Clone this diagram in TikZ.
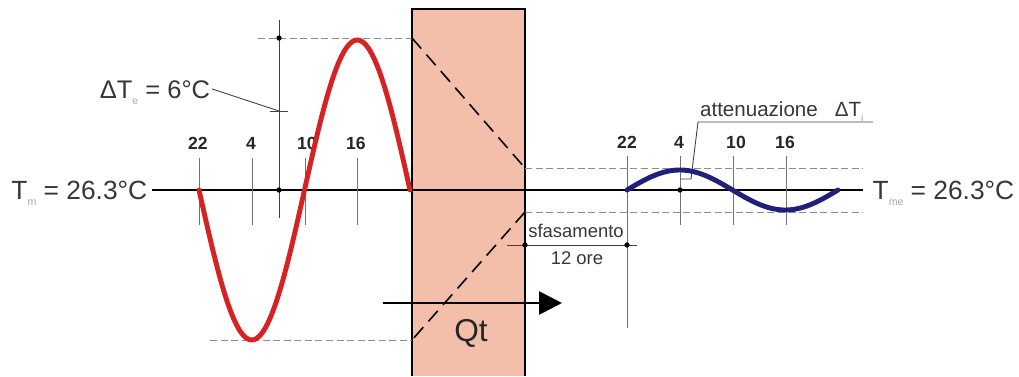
\documentclass[tikz,border=0pt]{standalone}
\usepackage{fontspec}
\setmainfont{Liberation Sans}
\usetikzlibrary{arrows.meta, calc}
\usepackage{xcolor}

\definecolor{wallfill}{RGB}{243,190,170}
\definecolor{wavered}{RGB}{214,34,34}
\definecolor{waveblue}{RGB}{34,30,122}
\definecolor{txtgray}{RGB}{55,55,55}

% pedice piccolo e chiaro
\newcommand{\lowsub}[1]{\raisebox{-0.45ex}{\fontsize{6}{7}\selectfont\color{black!35}#1}}

\begin{document}
\begin{tikzpicture}[
    x=0.02cm, y=-0.02cm,
    every node/.style={font=\fontsize{10.5}{12}\selectfont, text=txtgray, inner sep=1pt},
    axisline/.style={
        draw=black,
        line width=1.4pt
    },
    tickline/.style={draw=black!55, line width=0.4pt},
    guide/.style={draw=black!75, line width=0.5pt},
    level/.style={
        draw=black!45,
        line width=0.5pt,
        dash pattern=on 4pt off 2pt
    },
    slope/.style={
        draw=black,
        line width=0.9pt,
        dash pattern=on 8pt off 4.5pt
    },
    wave/.style={line width=2.8pt, line cap=round, line join=round},
    hour/.style={font=\fontsize{10}{12}\selectfont\bfseries, text=black!85},
    temp/.style={
        font=\fontsize{15}{18}\selectfont,
        text height=10.7pt,
        text depth=0pt,
        inner sep=2.5pt
    },
    dot/.style={circle, fill=black, inner sep=0pt, minimum size=3pt}
]

\useasboundingbox (0,0) rectangle (1019,376);

% ============================================================
% PARETE
% ============================================================

\fill[wallfill] (412,9) rectangle (525,376);
\draw[line width=0.8pt] (412,376) |- (525,9) -- (525,376);

% livelli di massimo e minimo
\draw[level] (258,38) -- (412,38);
\draw[level] (210,340) -- (412,340);
\draw[level] (525,168) -- (863,168);
\draw[level] (525,212) -- (863,212);

\draw[slope] (412,38) -- (525,168);
\draw[slope] (525,212) -- (412,340);

% ============================================================
% ASSE DELLE TEMPERATURE
% ============================================================

\node[temp, anchor=east] (tm) at (152,190)
{T\lowsub{m} = 26.3°C};

\node[temp, anchor=west, outer sep=3pt] (tme) at (863,190)
{T\lowsub{me} = 26.3°C};

\draw[axisline] (tm.east) -- (tme.west);

% ============================================================
% ORE - ESTERNO
% ============================================================

\foreach \hx/\hl in {198/22, 251/4, 307/10, 356/16}
{
    \node[hour] (in\hl) at (\hx,143) {\hl};
}
\foreach \hx in {199, 252, 305, 357}
{
    \draw[tickline] (\hx,158) -- (\hx,225);
}

% ampiezza esterna
\draw[guide] (279,20) -- (279,218);
\draw[guide] (270,111) -- (288,111);
\coordinate (dtemark) at (279,111);

\node[
    font=\fontsize{14.5}{17}\selectfont,
    text height=10.4pt,
    text depth=0pt
] (dte) at (155,89)
{ΔT\lowsub{e} = 6°C};

\draw[guide] (dte.east) -- (dtemark);

% ============================================================
% ORE - INTERNO
% ============================================================

\foreach \hx/\hl in {627/22, 679/4, 736/10, 785/16}
{
    \node[hour] (out\hl) at (\hx,142) {\hl};
}
\foreach \hx in {680, 733, 786}
{
    \draw[tickline] (\hx,156) -- (\hx,225);
}
\draw[tickline] (627,156) -- (627,328);

% sfasamento
\coordinate (sfleft) at (507,245);
\coordinate (sfright) at (637,245);
\draw[guide] (sfleft) -- (sfright);

\node[anchor=base] (sfas) at (576,237) {sfasamento};
\node (ore) at (577,258) {12 ore};

% attenuazione
\node[
    anchor=south west,
    font=\fontsize{11.7}{13}\selectfont,
    text depth=0pt,
    inner ysep=3pt
] (att) at (698,122)
{attenuazione\hspace{0.55em} ΔT\lowsub{i}};

\coordinate (attcorner) at (691,179);
\draw[guide] (680,179) -- (attcorner) -- (att.south west) -- ++(175,0);

% ============================================================
% ONDE
% ============================================================

\draw[wave, wavered]
plot[domain=199:410, samples=90] (\x, {190+150*sin((\x-199)/211*360)});

\draw[wave, waveblue]
plot[domain=627:838, samples=90] (\x, {190-20*sin((\x-627)/211*360)});

% punti
\foreach \px/\py in {279/38, 279/190, 680/190, 525/245, 627/245}
{
    \node[dot] at (\px,\py) {};
}

% ============================================================
% FLUSSO
% ============================================================

\coordinate (qin) at (383,303);
\coordinate (qout) at (562,303);
\draw[line width=1.6pt, -{Triangle[length=13pt,width=13pt]}] (qin) -- (qout);

\node[font=\fontsize{18}{20}\selectfont, text=black!85] (qt) at (471,333) {Qt};

\end{tikzpicture}
\end{document}
